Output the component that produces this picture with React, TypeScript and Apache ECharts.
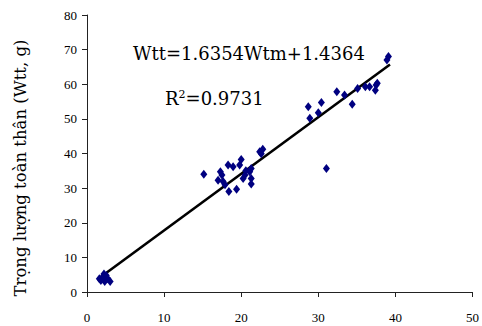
import React, { useEffect, useRef } from "react";
import * as echarts from "echarts";

const wtm = [
  1.8, 2.0, 2.3, 2.5, 2.7, 3.0, 2.2, 1.6,
  15.15, 17.3, 17.5, 17.0, 17.65, 18.3, 18.95, 20.0, 19.8, 18.4, 19.4, 20.25, 20.5, 21.3, 21.1, 21.3, 21.3, 22.4, 22.8, 22.6, 17.9, 20.6,
  31.05,
  39.1, 38.9, 37.5, 37.65, 37.4, 36.65, 36.1, 35.1, 34.4, 33.4, 32.4, 30.4, 28.7, 30.0, 28.9,
];
const wtt = [
  3.3, 4.2, 3.0, 4.8, 3.8, 3.0, 5.2, 3.8,
  34.0, 34.7, 33.8, 32.3, 31.9, 36.7, 36.2, 38.3, 36.7, 29.0, 29.7, 32.8, 33.8, 35.7, 34.7, 32.8, 31.2, 40.5, 41.2, 39.9, 31.0, 35.0,
  35.7,
  68.0, 67.0, 59.8, 60.3, 58.3, 59.3, 59.3, 58.8, 54.2, 56.9, 57.8, 54.7, 53.5, 51.8, 50.2,
];
const slope = 1.6354;
const intercept = 1.4364;
const lineRange = [1.6, 39.3];
const xTicks = [0, 10, 20, 30, 40, 50];
const yTicks = [0, 10, 20, 30, 40, 50, 60, 70, 80];
const yTitle = "Trọng lượng toàn thân (Wtt, g)";
const eqText = "Wtt=1.6354Wtm+1.4364";

export default function App() {
  const ref = useRef<HTMLDivElement>(null);
  useEffect(() => {
    if (!ref.current) return;
    const chart = echarts.init(ref.current, undefined, { renderer: "svg" });
    const labelFont = { fontFamily: "Liberation Serif", fontSize: 13, color: "#000" };
    chart.setOption({
      animation: false,
      backgroundColor: "#fff",
      grid: { left: 87, right: 9, top: 15, bottom: 34, containLabel: false },
      xAxis: {
        type: "value",
        min: xTicks[0],
        max: xTicks[xTicks.length - 1],
        interval: 10,
        axisLine: { show: true, lineStyle: { color: "#222", width: 1 } },
        axisTick: { show: true, length: 5, lineStyle: { color: "#222" } },
        splitLine: { show: false },
        axisLabel: { ...labelFont, margin: 19 },
      },
      yAxis: {
        type: "value",
        min: yTicks[0],
        max: yTicks[yTicks.length - 1],
        interval: 10,
        axisLine: { show: true, lineStyle: { color: "#222", width: 1 } },
        axisTick: { show: true, length: 5, lineStyle: { color: "#222" } },
        splitLine: { show: false },
        axisLabel: { ...labelFont, margin: 10 },
      },
      graphic: [
        {
          type: "text",
          x: 20,
          y: 168,
          rotation: Math.PI / 2,
          style: {
            text: yTitle,
            fontFamily: "DejaVu Serif",
            fontSize: 16.5,
            fill: "#000",
            align: "center",
            verticalAlign: "middle",
          },
        },
        {
          type: "text",
          x: 133,
          y: 53,
          style: {
            text: eqText,
            fontFamily: "DejaVu Serif",
            fontSize: 18,
            fill: "#000",
            align: "left",
            verticalAlign: "middle",
          },
        },
        {
          type: "text",
          x: 165,
          y: 98,
          style: {
            text: "R{sup|2}=0.9731",
            fontFamily: "DejaVu Serif",
            fontSize: 18,
            fill: "#000",
            align: "left",
            verticalAlign: "middle",
            rich: {
              sup: { fontFamily: "DejaVu Serif", fontSize: 11, verticalAlign: "top", padding: [0, 0, 8, 0] },
            },
          },
        },
      ],
      series: [
        {
          type: "line",
          data: lineRange.map((x) => [x, slope * x + intercept]),
          symbol: "none",
          lineStyle: { color: "#000", width: 2.6 },
          z: 1,
        },
        {
          type: "scatter",
          data: wtm.map((x, i) => [x, wtt[i]]),
          symbol: "diamond",
          symbolSize: [7, 9],
          itemStyle: { color: "#000080", opacity: 1 },
          z: 2,
        },
      ],
    });
    return () => chart.dispose();
  }, []);
  return <div ref={ref} style={{ position: "fixed", left: 0, top: 0, width: 482, height: 326 }} />;
}
